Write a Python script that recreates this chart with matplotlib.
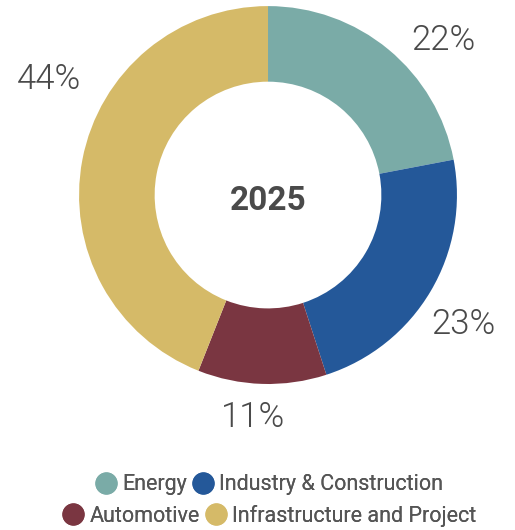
import matplotlib
matplotlib.use("Agg")
import matplotlib.pyplot as plt
from matplotlib.lines import Line2D
import numpy as np

categories = ["Energy", "Industry & Construction", "Automotive", "Infrastructure and Project"]
values = [22, 23, 11, 44]
colors = ["#7aaba7", "#245899", "#7a3641", "#d5ba68"]
center_label = "2025"

# label placement style (radius in data units, angular nudge in degrees)
label_radius = [1.24, 1.24, 1.18, 1.31]
label_nudge = [-9, -3, -2, -17]

fig = plt.figure(figsize=(5.15, 5.30), dpi=100)
ax = fig.add_axes([0.1534, 0.2755, 0.734, 0.713])
wedges, _ = ax.pie(values, colors=colors, startangle=90, counterclock=False,
                   radius=1.0, wedgeprops=dict(width=0.4, linewidth=0))
ax.set_xlim(-1, 1)
ax.set_ylim(-1, 1)
ax.set_aspect("equal")
ax.axis("off")

for w, v, r, d in zip(wedges, values, label_radius, label_nudge):
    ang = np.deg2rad((w.theta1 + w.theta2) / 2 + d)
    ax.text(r * np.cos(ang), r * np.sin(ang), f"{v}%", ha="center", va="center",
            fontsize=25, color="#4a4a4a", family="Roboto", fontweight=300,
            clip_on=False)

ax.text(0, -0.03, center_label, ha="center", va="center", fontsize=24,
        fontweight="bold", color="#4a4a4a", family="Roboto")

def handle(c):
    return Line2D([], [], marker="o", linestyle="none", markersize=15,
                  markerfacecolor=c, markeredgecolor=c)

rows = [(0, 1, 0.085), (2, 3, 0.027)]
for i, j, y in rows:
    leg = fig.legend([handle(colors[i]), handle(colors[j])],
                     [categories[i], categories[j]], ncol=2,
                     loc="center", bbox_to_anchor=(0.522, y), frameon=False,
                     prop=dict(family="Roboto", size=15.5), labelcolor="#555555",
                     handletextpad=0.2, columnspacing=0.2, handlelength=1.1,
                     borderpad=0, borderaxespad=0)
    fig.add_artist(leg)

fig.savefig("out.png", dpi=100)
